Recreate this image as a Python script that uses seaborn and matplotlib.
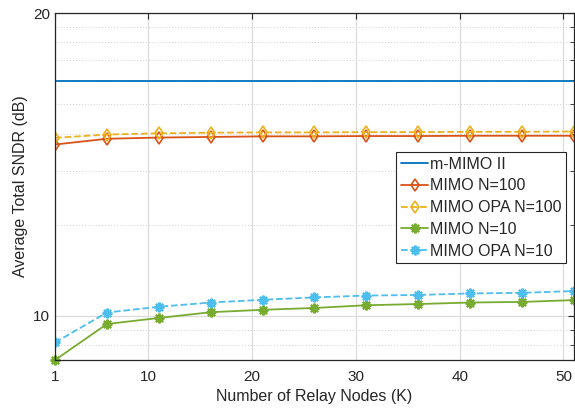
import numpy as np
import pandas as pd
import matplotlib
matplotlib.use("Agg")
import matplotlib.pyplot as plt
import seaborn as sns
from matplotlib.ticker import FixedLocator

# Relay node counts (x axis)
relay_nodes = [1, 6, 11, 16, 21, 26, 31, 36, 41, 46, 51]

# Average total SNDR in dB
m_mimo_ii = [17.75] * 11
mimo_n100 = [15.66, 15.85, 15.89, 15.91, 15.93, 15.93, 15.94, 15.94, 15.95, 15.95, 15.95]
mimo_opa_n100 = [15.88, 15.99, 16.03, 16.05, 16.06, 16.06, 16.07, 16.07, 16.08, 16.08, 16.09]
mimo_n10 = [8.54, 9.73, 9.93, 10.12, 10.20, 10.26, 10.35, 10.39, 10.44, 10.46, 10.52]
mimo_opa_n10 = [9.12, 10.11, 10.30, 10.44, 10.53, 10.61, 10.67, 10.69, 10.74, 10.76, 10.82]

series_names = ["m-MIMO II", "MIMO N=100", "MIMO OPA N=100", "MIMO N=10", "MIMO OPA N=10"]
x_ticks = [1, 10, 20, 30, 40, 50]
y_ticks = [10, 20]

sns.set_style("white")
plt.rcParams["font.family"] = ["Liberation Sans", "DejaVu Sans"]

df = pd.DataFrame({"K": relay_nodes * 5,
                   "SNDR": m_mimo_ii + mimo_n100 + mimo_opa_n100 + mimo_n10 + mimo_opa_n10,
                   "series": np.repeat(series_names, len(relay_nodes))})

styles = {
    "m-MIMO II": dict(color="#0072BD", marker=None, ls="-"),
    "MIMO N=100": dict(color="#D95319", marker="d", ls="-"),
    "MIMO OPA N=100": dict(color="#EDB120", marker="d", ls="--"),
    "MIMO N=10": dict(color="#77AC30", marker="*", ls="-"),
    "MIMO OPA N=10": dict(color="#4DBEEE", marker="*", ls="--"),
}

fig = plt.figure(figsize=(5.75, 4.11), dpi=100)
ax = fig.add_axes([0.0957, 0.124, 0.9023, 0.844])

for name in series_names:
    st = styles[name]
    sub = df[df["series"] == name]
    kw = {}
    if st["marker"] == "d":
        kw = dict(marker="d", markersize=6, markerfacecolor="none",
                  markeredgecolor=st["color"], markeredgewidth=1.2)
    elif st["marker"] == "*":
        # MATLAB-like asterisk
        kw = dict(marker=(8, 2, 0), markersize=7, markerfacecolor=st["color"],
                  markeredgecolor=st["color"], markeredgewidth=1.6)
    sns.lineplot(data=sub, x="K", y="SNDR", ax=ax, color=st["color"], linestyle=st["ls"],
                 linewidth=1.3, label=name, clip_on=False if name == "MIMO N=10" else True, **kw)

ax.set_xlim(1, 51)
ax.set_ylim(8.54, 20)
ax.set_xticks(x_ticks)
ax.set_yticks(y_ticks)
# minor grid at dB values of linear 7..9 and 20..90
ax.yaxis.set_minor_locator(FixedLocator(10 * np.log10([7, 8, 9, 20, 30, 40, 50, 60, 70, 80, 90])))
ax.grid(True, which="major", color="#dcdcdc", linewidth=0.9)
ax.grid(True, which="minor", axis="y", color="#d0d0d0", linestyle=(0, (1, 2)), linewidth=0.7)
ax.set_axisbelow(True)

ax.tick_params(axis="both", which="both", direction="in", top=True, right=True,
               colors="#262626", labelsize=11, length=4)
ax.tick_params(axis="both", which="minor", length=3)
ax.tick_params(axis="x", pad=7)
for side in ax.spines.values():
    side.set_color("#262626")
    side.set_linewidth(0.9)

ax.set_xlabel("Number of Relay Nodes (K)", fontsize=11.5, color="#262626", labelpad=4)
ax.set_ylabel("Average Total SNDR (dB)", fontsize=11.5, color="#262626", labelpad=4)

leg = ax.legend(loc="upper right", bbox_to_anchor=(0.985, 0.6), fontsize=11.5,
                frameon=True, fancybox=False, edgecolor="#262626", framealpha=1,
                handlelength=1.7, handletextpad=0.1, labelspacing=0.42, borderpad=0.3,
                borderaxespad=0)
leg.get_frame().set_linewidth(0.8)

fig.savefig("out.png", dpi=100)
